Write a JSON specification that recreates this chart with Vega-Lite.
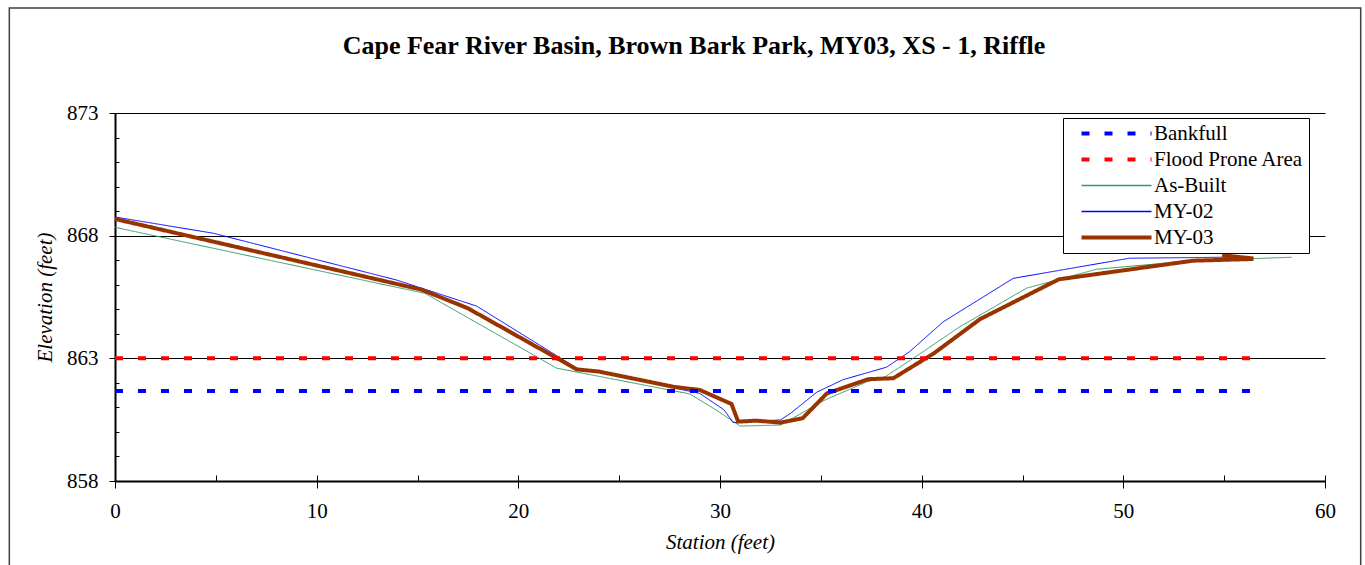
{
  "$schema": "https://vega.github.io/schema/vega-lite/v6.json",
  "width": 1210,
  "height": 368,
  "autosize": {"type": "none"},
  "padding": {"left": 115, "top": 113, "right": 40, "bottom": 84},
  "background": "white",
  "title": {
    "text": "Cape Fear River Basin, Brown Bark Park, MY03, XS - 1, Riffle",
    "font": "Liberation Serif",
    "fontSize": 26,
    "fontWeight": "bold",
    "color": "black",
    "anchor": "middle",
    "frame": "group",
    "dx": -26,
    "offset": -73,
    "baseline": "alphabetic"
  },
  "config": {
    "view": {"stroke": null},
    "axis": {
      "labelFont": "Liberation Serif",
      "labelFontSize": 21,
      "labelColor": "black",
      "labelFlush": false,
      "titleFont": "Liberation Serif",
      "titleFontSize": 21,
      "titleFontStyle": "italic",
      "titleFontWeight": "normal",
      "titleColor": "black",
      "domainColor": "black",
      "tickColor": "black",
      "gridColor": "black",
      "gridOpacity": 1
    },
    "legend": {
      "orient": "none",
      "legendX": 948,
      "legendY": 5,
      "fillColor": "white",
      "strokeColor": "black",
      "padding": 5,
      "symbolType": "M-3.5,0H3.5",
      "symbolSize": 400,
      "symbolOffset": 38,
      "labelFont": "Liberation Serif",
      "labelFontSize": 21,
      "labelColor": "black",
      "labelOffset": 27,
      "rowPadding": 4
    }
  },
  "datasets": {
    "survey": [
      {"series": "As-Built", "i": 0, "station": 0, "elev": 868.34},
      {"series": "As-Built", "i": 1, "station": 15.37, "elev": 865.65},
      {"series": "As-Built", "i": 2, "station": 21.9, "elev": 862.6},
      {"series": "As-Built", "i": 3, "station": 28.5, "elev": 861.55},
      {"series": "As-Built", "i": 4, "station": 29.8, "elev": 860.9},
      {"series": "As-Built", "i": 5, "station": 31.0, "elev": 860.24},
      {"series": "As-Built", "i": 6, "station": 33.0, "elev": 860.28},
      {"series": "As-Built", "i": 7, "station": 35.2, "elev": 861.3},
      {"series": "As-Built", "i": 8, "station": 37.3, "elev": 862.05},
      {"series": "As-Built", "i": 9, "station": 38.1, "elev": 862.2},
      {"series": "As-Built", "i": 10, "station": 39.58, "elev": 863.0},
      {"series": "As-Built", "i": 11, "station": 41.9, "elev": 864.29},
      {"series": "As-Built", "i": 12, "station": 45.2, "elev": 865.86},
      {"series": "As-Built", "i": 13, "station": 48.67, "elev": 866.63},
      {"series": "As-Built", "i": 14, "station": 53.46, "elev": 866.98},
      {"series": "As-Built", "i": 15, "station": 58.34, "elev": 867.12},

      {"series": "MY-02", "i": 0, "station": 0, "elev": 868.76},
      {"series": "MY-02", "i": 1, "station": 4.87, "elev": 868.1},
      {"series": "MY-02", "i": 2, "station": 13.97, "elev": 866.19},
      {"series": "MY-02", "i": 3, "station": 17.93, "elev": 865.13},
      {"series": "MY-02", "i": 4, "station": 22.9, "elev": 862.6},
      {"series": "MY-02", "i": 5, "station": 24.5, "elev": 862.35},
      {"series": "MY-02", "i": 6, "station": 29.0, "elev": 861.57},
      {"series": "MY-02", "i": 7, "station": 30.2, "elev": 860.9},
      {"series": "MY-02", "i": 8, "station": 30.65, "elev": 860.38},
      {"series": "MY-02", "i": 9, "station": 33.0, "elev": 860.49},
      {"series": "MY-02", "i": 10, "station": 33.5, "elev": 860.76},
      {"series": "MY-02", "i": 11, "station": 34.8, "elev": 861.62},
      {"series": "MY-02", "i": 12, "station": 36.1, "elev": 862.13},
      {"series": "MY-02", "i": 13, "station": 38.26, "elev": 862.64},
      {"series": "MY-02", "i": 14, "station": 39.4, "elev": 863.27},
      {"series": "MY-02", "i": 15, "station": 41.07, "elev": 864.49},
      {"series": "MY-02", "i": 16, "station": 44.54, "elev": 866.26},
      {"series": "MY-02", "i": 17, "station": 50.3, "elev": 867.08},
      {"series": "MY-02", "i": 18, "station": 54.95, "elev": 867.12}
    ],
    "my03": [
      {"series": "MY-03", "i": 0, "station": 0, "elev": 868.68},
      {"series": "MY-03", "i": 1, "station": 15.2, "elev": 865.8},
      {"series": "MY-03", "i": 2, "station": 17.5, "elev": 865.04},
      {"series": "MY-03", "i": 3, "station": 22.9, "elev": 862.55},
      {"series": "MY-03", "i": 4, "station": 24.0, "elev": 862.46},
      {"series": "MY-03", "i": 5, "station": 27.7, "elev": 861.84},
      {"series": "MY-03", "i": 6, "station": 29.0, "elev": 861.71},
      {"series": "MY-03", "i": 7, "station": 30.57, "elev": 861.14},
      {"series": "MY-03", "i": 8, "station": 30.9, "elev": 860.42},
      {"series": "MY-03", "i": 9, "station": 31.8, "elev": 860.46},
      {"series": "MY-03", "i": 10, "station": 33.0, "elev": 860.38},
      {"series": "MY-03", "i": 11, "station": 34.1, "elev": 860.56},
      {"series": "MY-03", "i": 12, "station": 35.3, "elev": 861.57},
      {"series": "MY-03", "i": 13, "station": 37.35, "elev": 862.15},
      {"series": "MY-03", "i": 14, "station": 38.6, "elev": 862.19},
      {"series": "MY-03", "i": 15, "station": 40.6, "elev": 863.2},
      {"series": "MY-03", "i": 16, "station": 42.9, "elev": 864.6},
      {"series": "MY-03", "i": 17, "station": 46.8, "elev": 866.22},
      {"series": "MY-03", "i": 18, "station": 53.46, "elev": 866.98},
      {"series": "MY-03", "i": 19, "station": 56.45, "elev": 867.05},
      {"series": "MY-03", "i": 20, "station": 54.9, "elev": 867.2},
      {"series": "MY-03", "i": 21, "station": 56.45, "elev": 867.07}
    ],
    "levels": [
      {"series": "Bankfull", "station": 0, "elev": 861.67},
      {"series": "Bankfull", "station": 56.3, "elev": 861.67},
      {"series": "Flood Prone Area", "station": 0, "elev": 863.0},
      {"series": "Flood Prone Area", "station": 56.3, "elev": 863.0}
    ]
  },
  "layer": [
    {
      "data": {"name": "survey"},
      "mark": {"type": "line", "strokeWidth": 1, "strokeJoin": "miter"},
      "encoding": {
        "x": {
          "field": "station",
          "type": "quantitative",
          "scale": {"domain": [0, 60], "nice": false, "zero": false},
          "axis": {
            "orient": "bottom",
            "values": [0, 10, 20, 30, 40, 50, 60],
            "title": "Station (feet)",
            "grid": false,
            "tickSize": 7,
            "tickWidth": 1,
            "domainWidth": 2,
            "labelPadding": 12,
            "titlePadding": 10
          }
        },
        "y": {
          "field": "elev",
          "type": "quantitative",
          "scale": {"domain": [858, 873], "nice": false, "zero": false},
          "axis": {
            "orient": "left",
            "values": [858, 863, 868, 873],
            "title": "Elevation (feet)",
            "grid": true,
            "gridWidth": 1,
            "tickSize": 6,
            "tickWidth": 1,
            "domainWidth": 2,
            "labelPadding": 11,
            "titlePadding": 11
          }
        },
        "order": {"field": "i", "type": "quantitative"},
        "color": {
          "field": "series",
          "type": "nominal",
          "scale": {
            "domain": ["Bankfull", "Flood Prone Area", "As-Built", "MY-02", "MY-03"],
            "range": ["#0000FF", "#FF0000", "#339966", "#0000FF", "#993300"]
          },
          "legend": {
            "title": null,
            "labelFont": "Liberation Serif",
            "labelFontSize": 21,
            "encode": {
              "symbols": {
                "update": {
                  "strokeWidth": {"signal": "datum.value === 'As-Built' || datum.value === 'MY-02' ? 1.5 : 4"},
                  "strokeCap": {"value": "butt"}
                }
              }
            }
          }
        },
        "strokeDash": {
          "field": "series",
          "type": "nominal",
          "scale": {
            "domain": ["Bankfull", "Flood Prone Area", "As-Built", "MY-02", "MY-03"],
            "range": [[8, 15], [8, 15], [1, 0], [1, 0], [1, 0]]
          },
          "legend": {"title": null}
        }
      }
    },
    {
      "data": {"name": "my03"},
      "mark": {"type": "line", "strokeWidth": 4, "strokeJoin": "miter"},
      "encoding": {
        "x": {"field": "station", "type": "quantitative", "axis": null},
        "y": {"field": "elev", "type": "quantitative", "axis": null},
        "order": {"field": "i", "type": "quantitative"},
        "color": {"field": "series", "type": "nominal", "legend": {"title": null}},
        "strokeDash": {"field": "series", "type": "nominal", "legend": {"title": null}}
      }
    },
    {
      "data": {"name": "levels"},
      "mark": {"type": "line", "strokeWidth": 4, "strokeCap": "butt"},
      "encoding": {
        "x": {"field": "station", "type": "quantitative", "axis": null},
        "y": {"field": "elev", "type": "quantitative", "axis": null},
        "color": {"field": "series", "type": "nominal", "legend": {"title": null}},
        "strokeDash": {"field": "series", "type": "nominal", "legend": {"title": null}}
      }
    },
    {
      "data": {"name": "levels"},
      "mark": {"type": "point", "opacity": 0},
      "encoding": {
        "x": {
          "field": "station",
          "type": "quantitative",
          "axis": {
            "orient": "top",
            "offset": -368,
            "values": [0, 5, 10, 15, 20, 25, 30, 35, 40, 45, 50, 55, 60],
            "title": null,
            "labels": false,
            "domain": false,
            "grid": false,
            "tickSize": 6,
            "tickWidth": 1
          }
        },
        "y": {
          "field": "elev",
          "type": "quantitative",
          "axis": {
            "orient": "right",
            "offset": -1210,
            "values": [858, 859, 860, 861, 862, 863, 864, 865, 866, 867, 868, 869, 870, 871, 872, 873],
            "title": null,
            "labels": false,
            "domain": false,
            "grid": false,
            "tickSize": 4,
            "tickWidth": 1
          }
        }
      }
    },
    {
      "data": {"values": [{"frame": "chart area"}]},
      "mark": {"type": "rect", "fill": null, "stroke": "#404040", "strokeWidth": 1.5, "clip": false},
      "encoding": {
        "x": {"datum": -5.24, "type": "quantitative", "axis": null},
        "x2": {"datum": 61.77},
        "y": {"datum": 877.28, "type": "quantitative", "axis": null},
        "y2": {"datum": 854.0}
      }
    }
  ],
  "resolve": {"axis": {"x": "independent", "y": "independent"}}
}
